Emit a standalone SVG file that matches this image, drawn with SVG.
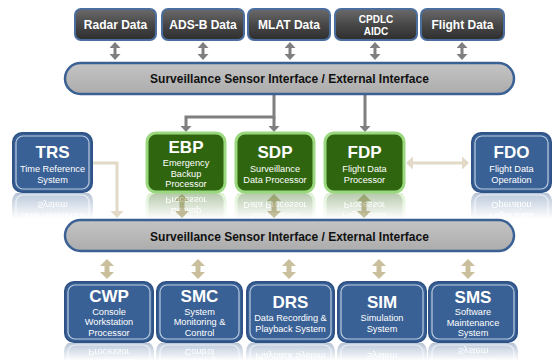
<svg xmlns="http://www.w3.org/2000/svg" xmlns:xlink="http://www.w3.org/1999/xlink" width="557" height="361" viewBox="0 0 557 361">
<defs>
  <linearGradient id="gDark" x1="0" y1="0" x2="0" y2="1">
    <stop offset="0" stop-color="#6a6a6a"/>
    <stop offset="0.5" stop-color="#484848"/>
    <stop offset="1" stop-color="#2e2e2e"/>
  </linearGradient>
  <linearGradient id="gBar" x1="0" y1="0" x2="0" y2="1">
    <stop offset="0" stop-color="#c4c4c4"/>
    <stop offset="1" stop-color="#acacac"/>
  </linearGradient>
  <linearGradient id="gFade" x1="0" y1="0" x2="0" y2="1">
    <stop offset="0" stop-color="#fff" stop-opacity="0.35"/>
    <stop offset="1" stop-color="#fff" stop-opacity="0"/>
  </linearGradient>
  <mask id="mMid" maskUnits="userSpaceOnUse" x="0" y="192" width="557" height="30">
    <rect x="0" y="193" width="557" height="26" fill="url(#gFade)"/>
  </mask>
  <mask id="mBot" maskUnits="userSpaceOnUse" x="0" y="342" width="557" height="19">
    <rect x="0" y="343" width="557" height="18" fill="url(#gFade)"/>
  </mask>
  <marker id="hGrey" viewBox="0 0 6 11" refX="1" refY="5.5" markerWidth="6" markerHeight="11" markerUnits="userSpaceOnUse" orient="auto-start-reverse">
    <path d="M0,0 L6,5.5 L0,11 Z" fill="#7f7f7f"/>
  </marker>
  <marker id="hTan" viewBox="0 0 7 14" refX="1" refY="7" markerWidth="7" markerHeight="14" markerUnits="userSpaceOnUse" orient="auto-start-reverse">
    <path d="M0,0 L7,7 L0,14 Z" fill="#c9bf9d"/>
  </marker>
  <marker id="hLight" viewBox="0 0 7 13" refX="1" refY="6.5" markerWidth="7" markerHeight="13" markerUnits="userSpaceOnUse" orient="auto-start-reverse">
    <path d="M0,0 L7,6.5 L0,13 Z" fill="#e2dac6"/>
  </marker>
</defs>
<style>
  text { font-family: "Liberation Sans", Arial, sans-serif; fill: #fff; text-anchor: middle; }
  .data { fill: url(#gDark); stroke: #4b6e9e; stroke-width: 2; }
  .dt { font-size: 12px; font-weight: bold; }
  .dts { font-size: 10px; font-weight: bold; }
  .bar { fill: url(#gBar); stroke: #3b6194; stroke-width: 2.5; }
  .bt { font-size: 12px; font-weight: bold; fill: #111; }
  .blue { fill: #3a6195; stroke: #2f5386; stroke-width: 2; }
  .blueIn { fill: none; stroke: #b9cbe2; stroke-width: 1.2; }
  .green { fill: #2f650f; stroke: #9ad87e; stroke-width: 3; }
  .ttl { font-size: 17px; font-weight: bold; }
  .sub { font-size: 9.2px; }
  .gline { fill: none; stroke: #7f7f7f; stroke-width: 3; }
  .tan { fill: none; stroke: #c9bf9d; stroke-width: 5; }
  .light { fill: none; stroke: #e2dac6; stroke-width: 3; }
</style>

<!-- connectors -->
<g id="connectors">
  <line class="gline" x1="115" y1="47" x2="115" y2="55" marker-start="url(#hGrey)" marker-end="url(#hGrey)"/>
  <line class="gline" x1="203" y1="47" x2="203" y2="55" marker-start="url(#hGrey)" marker-end="url(#hGrey)"/>
  <line class="gline" x1="290" y1="47" x2="290" y2="55" marker-start="url(#hGrey)" marker-end="url(#hGrey)"/>
  <line class="gline" x1="375" y1="47" x2="375" y2="55" marker-start="url(#hGrey)" marker-end="url(#hGrey)"/>
  <line class="gline" x1="462" y1="47" x2="462" y2="55" marker-start="url(#hGrey)" marker-end="url(#hGrey)"/>
  <path class="gline" d="M274,95 V117 H186 V127" marker-end="url(#hGrey)"/>
  <path class="gline" d="M274,117 V127" marker-end="url(#hGrey)"/>
  <path class="gline" d="M365,95 V127" marker-end="url(#hGrey)"/>
  <path class="light" d="M92,163 H117 V212" marker-end="url(#hLight)"/>
  <line class="light" x1="412" y1="163" x2="463" y2="163" marker-start="url(#hLight)" marker-end="url(#hLight)"/>
  <line class="tan" x1="182" y1="200" x2="182" y2="212" marker-start="url(#hTan)" marker-end="url(#hTan)"/>
  <line class="tan" x1="274" y1="200" x2="274" y2="212" marker-start="url(#hTan)" marker-end="url(#hTan)"/>
  <line class="tan" x1="364" y1="200" x2="364" y2="212" marker-start="url(#hTan)" marker-end="url(#hTan)"/>
  <line class="tan" x1="107" y1="265" x2="107" y2="273" marker-start="url(#hTan)" marker-end="url(#hTan)"/>
  <line class="tan" x1="198" y1="265" x2="198" y2="273" marker-start="url(#hTan)" marker-end="url(#hTan)"/>
  <line class="tan" x1="289" y1="265" x2="289" y2="273" marker-start="url(#hTan)" marker-end="url(#hTan)"/>
  <line class="tan" x1="379" y1="265" x2="379" y2="273" marker-start="url(#hTan)" marker-end="url(#hTan)"/>
  <line class="tan" x1="468" y1="265" x2="468" y2="273" marker-start="url(#hTan)" marker-end="url(#hTan)"/>
</g>

<!-- top data sources -->
<g id="radar"><rect class="data" x="75" y="9" width="81" height="31" rx="6"/><text class="dt" x="115.5" y="29">Radar Data</text></g>
<g id="adsb"><rect class="data" x="162" y="9" width="82" height="31" rx="6"/><text class="dt" x="203" y="29">ADS-B Data</text></g>
<g id="mlat"><rect class="data" x="248" y="9" width="82" height="31" rx="6"/><text class="dt" x="289" y="29">MLAT Data</text></g>
<g id="cpdlc"><rect class="data" x="335" y="9" width="82" height="31" rx="6"/><text class="dts" x="376" y="22.5">CPDLC</text><text class="dts" x="376" y="35">AIDC</text></g>
<g id="flight"><rect class="data" x="421" y="9" width="83" height="31" rx="6"/><text class="dt" x="462.5" y="29">Flight Data</text></g>

<g id="bar-top"><rect class="bar" x="65" y="63" width="449" height="31" rx="15.5"/><text class="bt" x="289.5" y="83">Surveillance Sensor Interface / External Interface</text></g>

<!-- middle row -->
<g id="trs"><g id="trsB"><rect class="blue" x="13" y="133" width="79" height="59" rx="9"/><rect class="blueIn" x="16" y="136" width="73" height="53" rx="7"/><text class="ttl" x="52.5" y="158">TRS</text><text class="sub" x="52.5" y="171.5">Time Reference</text><text class="sub" x="52.5" y="182.5">System</text></g>
  <g mask="url(#mMid)"><use xlink:href="#trsB" href="#trsB" transform="translate(0,384) scale(1,-1)"/></g></g>
<g id="ebp"><g id="ebpB"><rect class="green" x="147" y="133" width="78" height="59" rx="9"/><text class="ttl" x="186" y="153">EBP</text><text class="sub" x="186" y="166">Emergency</text><text class="sub" x="186" y="176.5">Backup</text><text class="sub" x="186" y="187">Processor</text></g>
  <g mask="url(#mMid)"><use xlink:href="#ebpB" href="#ebpB" transform="translate(0,384) scale(1,-1)"/></g></g>
<g id="sdp"><g id="sdpB"><rect class="green" x="236" y="133" width="78" height="59" rx="9"/><text class="ttl" x="275" y="158">SDP</text><text class="sub" x="275" y="171.5">Surveillance</text><text class="sub" x="275" y="182.5">Data Processor</text></g>
  <g mask="url(#mMid)"><use xlink:href="#sdpB" href="#sdpB" transform="translate(0,384) scale(1,-1)"/></g></g>
<g id="fdp"><g id="fdpB"><rect class="green" x="325" y="133" width="79" height="59" rx="9"/><text class="ttl" x="364.5" y="158">FDP</text><text class="sub" x="364.5" y="171.5">Flight Data</text><text class="sub" x="364.5" y="182.5">Processor</text></g>
  <g mask="url(#mMid)"><use xlink:href="#fdpB" href="#fdpB" transform="translate(0,384) scale(1,-1)"/></g></g>
<g id="fdo"><g id="fdoB"><rect class="blue" x="472" y="133" width="79" height="59" rx="9"/><rect class="blueIn" x="475" y="136" width="73" height="53" rx="7"/><text class="ttl" x="511.5" y="158">FDO</text><text class="sub" x="511.5" y="171.5">Flight Data</text><text class="sub" x="511.5" y="182.5">Operation</text></g>
  <g mask="url(#mMid)"><use xlink:href="#fdoB" href="#fdoB" transform="translate(0,384) scale(1,-1)"/></g></g>

<g id="bar-bottom"><rect class="bar" x="65" y="220" width="449" height="31" rx="15.5"/><text class="bt" x="289.5" y="240.5">Surveillance Sensor Interface / External Interface</text></g>

<!-- bottom row -->
<g id="cwp"><g id="cwpB"><rect class="blue" x="65" y="282" width="88" height="60" rx="9"/><rect class="blueIn" x="68" y="285" width="82" height="54" rx="7"/><text class="ttl" x="109" y="301.5">CWP</text><text class="sub" x="109" y="314.5">Console</text><text class="sub" x="109" y="325">Workstation</text><text class="sub" x="109" y="335.5">Processor</text></g>
  <g mask="url(#mBot)"><use xlink:href="#cwpB" href="#cwpB" transform="translate(0,684) scale(1,-1)"/></g></g>
<g id="smc"><g id="smcB"><rect class="blue" x="157" y="282" width="85" height="60" rx="9"/><rect class="blueIn" x="160" y="285" width="79" height="54" rx="7"/><text class="ttl" x="199.5" y="301.5">SMC</text><text class="sub" x="199.5" y="314.5">System</text><text class="sub" x="199.5" y="325">Monitoring &amp;</text><text class="sub" x="199.5" y="335.5">Control</text></g>
  <g mask="url(#mBot)"><use xlink:href="#smcB" href="#smcB" transform="translate(0,684) scale(1,-1)"/></g></g>
<g id="drs"><g id="drsB"><rect class="blue" x="247" y="282" width="87" height="60" rx="9"/><rect class="blueIn" x="250" y="285" width="81" height="54" rx="7"/><text class="ttl" x="290.5" y="307.5">DRS</text><text class="sub" x="290.5" y="320.5">Data Recording &amp;</text><text class="sub" x="290.5" y="331.5">Playback System</text></g>
  <g mask="url(#mBot)"><use xlink:href="#drsB" href="#drsB" transform="translate(0,684) scale(1,-1)"/></g></g>
<g id="sim"><g id="simB"><rect class="blue" x="338" y="282" width="88" height="60" rx="9"/><rect class="blueIn" x="341" y="285" width="82" height="54" rx="7"/><text class="ttl" x="382" y="307.5">SIM</text><text class="sub" x="382" y="320.5">Simulation</text><text class="sub" x="382" y="331.5">System</text></g>
  <g mask="url(#mBot)"><use xlink:href="#simB" href="#simB" transform="translate(0,684) scale(1,-1)"/></g></g>
<g id="sms"><g id="smsB"><rect class="blue" x="429" y="282" width="88" height="60" rx="9"/><rect class="blueIn" x="432" y="285" width="82" height="54" rx="7"/><text class="ttl" x="473" y="302.5">SMS</text><text class="sub" x="473" y="315">Software</text><text class="sub" x="473" y="325.5">Maintenance</text><text class="sub" x="473" y="336">System</text></g>
  <g mask="url(#mBot)"><use xlink:href="#smsB" href="#smsB" transform="translate(0,684) scale(1,-1)"/></g></g>
</svg>
